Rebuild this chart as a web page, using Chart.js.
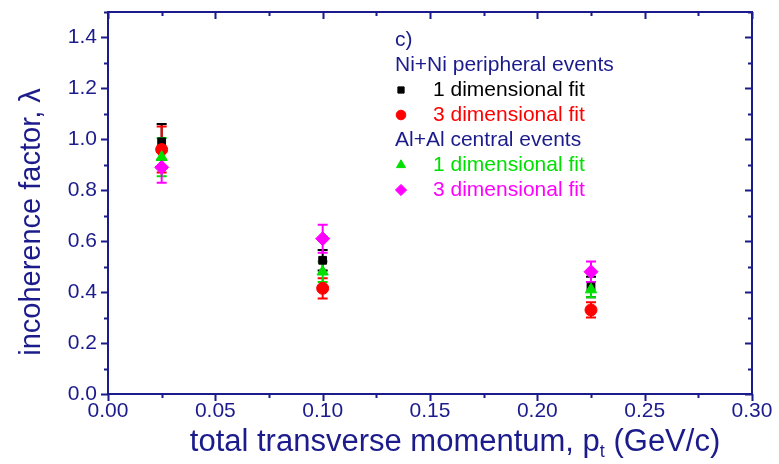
<!DOCTYPE html>
<html>
<head>
<meta charset="utf-8">
<script src="https://cdn.jsdelivr.net/npm/chart.js@4.4.1/dist/chart.umd.min.js"></script>
<style>
  html, body { margin: 0; padding: 0; background: #ffffff; }
  #wrap { width: 779px; height: 464px; position: relative; }
</style>
</head>
<body>
<div id="wrap"><canvas id="c" width="779" height="464"></canvas></div>
<script>
// Transverse momentum bins (GeV/c)
const pt = [0.025, 0.1, 0.225];

// Ni+Ni peripheral events
const niNi1D = [0.99, 0.525, 0.42];
const niNi1DErr = [0.07, 0.04, 0.04];
const niNi3D = [0.96, 0.415, 0.33];
const niNi3DErr = [0.09, 0.04, 0.03];

// Al+Al central events
const alAl1D = [0.93, 0.48, 0.41];
const alAl1DErr = [0.075, 0.04, 0.03];
const alAl3D = [0.89, 0.61, 0.48];
const alAl3DErr = [0.06, 0.055, 0.04];

// Axis tick labels
const xTicks = [0.00, 0.05, 0.10, 0.15, 0.20, 0.25, 0.30];
const yTicks = [0.0, 0.2, 0.4, 0.6, 0.8, 1.0, 1.2, 1.4];

const NAVY = '#1b1b8c';
const FONT = '"Liberation Sans", Arial, sans-serif';

function points(ys, errs) {
  return pt.map((x, i) => ({ x: x, y: ys[i], err: errs[i] }));
}

const series = [
  { label: '1 dimensional fit', data: points(niNi1D, niNi1DErr), color: '#000000', style: 'rect', radius: 5.5, order: 4 },
  { label: '3 dimensional fit', data: points(niNi3D, niNi3DErr), color: '#ff0000', style: 'circle', radius: 6, order: 3 },
  { label: '1 dimensional fit', data: points(alAl1D, alAl1DErr), color: '#00e000', style: 'triangle', radius: 6.5, order: 2 },
  { label: '3 dimensional fit', data: points(alAl3D, alAl3DErr), color: '#ff00ff', style: 'rectRot', radius: 7, order: 1 }
];

// Vertical error bars with caps, drawn under the markers
const errorBars = {
  id: 'errorBars',
  beforeDatasetsDraw(chart) {
    const ctx = chart.ctx;
    const xs = chart.scales.x, ys = chart.scales.y;
    ctx.save();
    ctx.lineWidth = 2;
    chart.data.datasets.slice().sort((a, b) => b.order - a.order).forEach(ds => {
      ctx.strokeStyle = ds.borderColor;
      ds.data.forEach(p => {
        const px = xs.getPixelForValue(p.x);
        const top = ys.getPixelForValue(p.y + p.err);
        const bot = ys.getPixelForValue(p.y - p.err);
        ctx.beginPath();
        ctx.moveTo(px, top); ctx.lineTo(px, bot);
        ctx.moveTo(px - 5, top); ctx.lineTo(px + 5, top);
        ctx.moveTo(px - 5, bot); ctx.lineTo(px + 5, bot);
        ctx.stroke();
      });
    });
    ctx.restore();
  }
};

// Frame, major/minor ticks and axis titles
const frame = {
  id: 'frame',
  afterDraw(chart) {
    const ctx = chart.ctx;
    const a = chart.chartArea;
    const xs = chart.scales.x, ys = chart.scales.y;
    ctx.save();
    ctx.strokeStyle = NAVY;
    ctx.lineWidth = 2;
    ctx.strokeRect(a.left, a.top, a.right - a.left, a.bottom - a.top);
    ctx.beginPath();
    // y ticks: outward on the left, inward on the right
    for (let v = 0; v <= 1.5001; v += 0.1) {
      const major = Math.round(v * 10) % 2 === 0;
      const len = major ? 7 : 4;
      const py = Math.round(ys.getPixelForValue(v)) + 0.5;
      ctx.moveTo(a.left - len, py); ctx.lineTo(a.left, py);
      ctx.moveTo(a.right, py); ctx.lineTo(a.right - len, py);
    }
    // x ticks: outward at the bottom, inward at the top
    for (let v = 0; v <= 0.3001; v += 0.025) {
      const major = Math.round(v * 40) % 2 === 0;
      const len = major ? 7 : 4;
      const px = Math.round(xs.getPixelForValue(v)) + 0.5;
      ctx.moveTo(px, a.bottom); ctx.lineTo(px, a.bottom + len);
      ctx.moveTo(px, a.top); ctx.lineTo(px, a.top + len);
    }
    ctx.stroke();

    ctx.fillStyle = NAVY;
    // x title with subscript t
    const main = 'total transverse momentum, p';
    const tail = ' (GeV/c)';
    ctx.font = '31px ' + FONT;
    const w1 = ctx.measureText(main).width;
    const w3 = ctx.measureText(tail).width;
    ctx.font = '18px ' + FONT;
    const w2 = ctx.measureText('t').width;
    const total = w1 + w2 + w3;
    let x0 = 455 - total / 2;
    const base = 451;
    ctx.textBaseline = 'alphabetic';
    ctx.textAlign = 'left';
    ctx.font = '31px ' + FONT;
    ctx.fillText(main, x0, base);
    ctx.font = '18px ' + FONT;
    ctx.fillText('t', x0 + w1, base + 6);
    ctx.font = '31px ' + FONT;
    ctx.fillText(tail, x0 + w1 + w2, base);

    // y title
    ctx.save();
    ctx.translate(40, 222);
    ctx.rotate(-Math.PI / 2);
    ctx.textAlign = 'center';
    ctx.textBaseline = 'alphabetic';
    ctx.font = '29px ' + FONT;
    ctx.fillText('incoherence factor, \u03bb', 0, 0);
    ctx.restore();
    ctx.restore();
  }
};

// Legend block with group headings
const legendBlock = {
  id: 'legendBlock',
  afterDraw(chart) {
    const ctx = chart.ctx;
    ctx.save();
    ctx.font = '21px ' + FONT;
    ctx.textBaseline = 'middle';
    ctx.textAlign = 'left';
    const lx = 395;
    let y = 40;
    const step = 25;
    ctx.fillStyle = NAVY;
    ctx.fillText('c)', lx, y); y += step;
    const rows = [
      { head: 'Ni+Ni peripheral events' }, { s: 0 }, { s: 1 },
      { head: 'Al+Al central events' }, { s: 2 }, { s: 3 }
    ];
    rows.forEach(r => {
      if (r.head) {
        ctx.fillStyle = NAVY;
        ctx.fillText(r.head, lx, y);
      } else {
        const s = series[r.s];
        ctx.fillStyle = s.color;
        ctx.strokeStyle = s.color;
        Chart.helpers.drawPoint(ctx, { pointStyle: s.style, radius: s.radius * 0.8, rotation: 0, borderWidth: 1 }, lx + 6, y);
        ctx.fillStyle = s.color;
        ctx.fillText(s.label, lx + 38, y);
      }
      y += step;
    });
    ctx.restore();
  }
};

new Chart(document.getElementById('c'), {
  type: 'scatter',
  data: {
    datasets: series.map(s => ({
      label: s.label,
      data: s.data,
      order: s.order,
      pointStyle: s.style,
      pointRadius: s.radius,
      pointHoverRadius: s.radius,
      backgroundColor: s.color,
      borderColor: s.color,
      borderWidth: 1,
      showLine: false
    }))
  },
  options: {
    responsive: false,
    devicePixelRatio: 1,
    animation: false,
    layout: { padding: { left: 0, right: 27, top: 12, bottom: 0 } },
    plugins: { legend: { display: false }, tooltip: { enabled: false }, title: { display: false } },
    scales: {
      x: {
        type: 'linear', min: 0, max: 0.3,
        afterBuildTicks: sc => { sc.ticks = xTicks.map(v => ({ value: v })); },
        afterFit: sc => { sc.height = 70; sc.paddingLeft = 0; sc.paddingRight = 0; },
        grid: { display: false, drawTicks: false },
        border: { display: false },
        ticks: {
          color: NAVY, font: { family: FONT, size: 21 }, padding: 5,
          maxRotation: 0, autoSkip: false,
          callback: v => v.toFixed(2)
        }
      },
      y: {
        type: 'linear', min: 0, max: 1.5,
        afterBuildTicks: sc => { sc.ticks = yTicks.map(v => ({ value: v })); },
        afterFit: sc => { sc.width = 108; sc.paddingTop = 0; sc.paddingBottom = 0; },
        grid: { display: false, drawTicks: false },
        border: { display: false },
        ticks: {
          color: NAVY, font: { family: FONT, size: 21 }, padding: 11,
          autoSkip: false,
          callback: v => v.toFixed(1)
        }
      }
    }
  },
  plugins: [errorBars, frame, legendBlock]
});
</script>
</body>
</html>
